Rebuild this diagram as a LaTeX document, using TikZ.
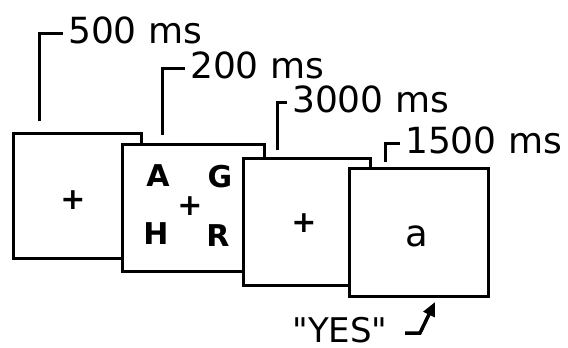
\documentclass[tikz,border=0pt]{standalone}
\usepackage{fontspec}
\setmainfont{DejaVu Sans}
\newfontfamily\plainquotes{DejaVu Sans}[Ligatures=ResetAll]
\usetikzlibrary{arrows.meta}
\begin{document}
\begin{tikzpicture}[x=1pt,y=-1pt,
  panel/.style={draw=black,fill=white,line width=3pt},
  lab/.style={font=\fontsize{36}{40}\selectfont,inner xsep=5pt,inner ysep=0pt,anchor=base west},
  glyph/.style={font=\fontsize{30}{34}\selectfont\bfseries,inner sep=0pt},
  bigglyph/.style={font=\fontsize{37}{40}\selectfont,inner sep=0pt},
  bracket/.style={line width=3pt},
  resp/.style={line width=3.5pt,-{Triangle[length=14pt,width=12pt]}}]
\useasboundingbox (0,0) rectangle (568,348);
% panels, back to front
\node[panel,minimum width=128pt,minimum height=125pt,inner sep=0pt,anchor=north west] (p1) at (12,132) {};
\node[panel,minimum width=142pt,minimum height=127pt,inner sep=0pt,anchor=north west] (p2) at (121,143) {};
\node[panel,minimum width=127pt,minimum height=127pt,inner sep=0pt,anchor=north west] (p3) at (242,157) {};
\node[panel,minimum width=139pt,minimum height=128pt,inner sep=0pt,anchor=north west] (p4) at (348,167) {};
% contents
\node[glyph] (p1plus) at (73,200) {+};
\node[glyph] (lA) at (158,176) {A};
\node[glyph] (lG) at (220,177) {G};
\node[glyph] (lH) at (156,234) {H};
\node[glyph] (lR) at (218,236) {R};
\node[glyph] (p2plus) at (190,206) {+};
\node[glyph] (p3plus) at (304,223) {+};
\node[bigglyph] (la) at (417,236) {a};
% timing labels
\node[lab] (l1) at (63,43) {500 ms};
\node[lab] (l2) at (185,78) {200 ms};
\node[lab] (l3) at (287,112) {3000 ms};
\node[lab] (l4) at (400,153) {1500 ms};
\coordinate (c1) at (39,121);
\coordinate (c2) at (162,135);
\coordinate (c3) at (277,150);
\coordinate (c4) at (385,162);
\draw[bracket] (c1) |- ([yshift=10pt]l1.base west);
\draw[bracket] (c2) |- ([yshift=10pt]l2.base west);
\draw[bracket] (c3) |- ([yshift=10pt]l3.base west);
\draw[bracket] (c4) |- ([yshift=10pt]l4.base west);
% response
\node[font=\plainquotes\fontsize{34}{38}\selectfont,inner sep=0pt,anchor=base] (yes) at (340,342) {"YES"};
\coordinate (r0) at (405,333);
\coordinate (r1) at (420,333);
\coordinate (r2) at (435,302);
\draw[resp] (r0) -- (r1) -- (r2);
\end{tikzpicture}
\end{document}
